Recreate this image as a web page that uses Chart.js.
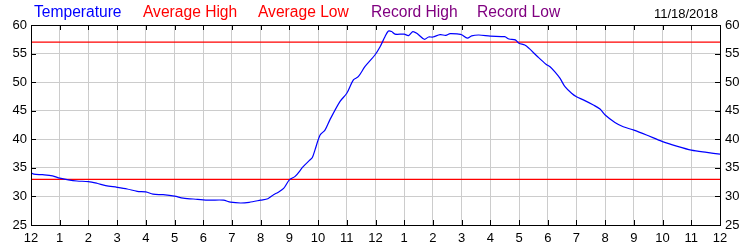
<!DOCTYPE html>
<html>
<head>
<meta charset="utf-8">
<script src="https://cdn.jsdelivr.net/npm/chart.js@4"></script>
<style>
  body { margin: 0; background: #fff; }
  #wrap { position: relative; width: 750px; height: 250px; font-family: Arial, "Liberation Sans", sans-serif; }
  .lg { position: absolute; top: 3px; font-size: 15.6px; white-space: nowrap; }
  #date { position: absolute; top: 6px; right: 32px; font-size: 13px; color: #000; }
</style>
</head>
<body>
<div id="wrap">
  <canvas id="chartTemp" width="750" height="250"></canvas>
  <div class="lg" style="left:34px;color:#0000ff">Temperature</div>
  <div class="lg" style="left:143px;color:#ff0000">Average High</div>
  <div class="lg" style="left:258px;color:#ff0000">Average Low</div>
  <div class="lg" style="left:371px;color:#800080">Record High</div>
  <div class="lg" style="left:477px;color:#800080">Record Low</div>
  <div id="date">11/18/2018</div>
</div>
<script>
// ══════════════════════════════════════
// DATA
// ══════════════════════════════════════

// hours since midnight
const HOURS = [
  0, 0.1, 0.4, 0.75, 1.0, 1.3, 1.6, 2.0, 2.3, 2.6, 3.0, 3.35, 3.7, 4.0, 4.25, 4.6,
  5.0, 5.3, 5.8, 6.2, 6.7, 6.95, 7.3, 7.6, 8.0, 8.25, 8.45, 8.6, 8.8, 9.0, 9.2, 9.48,
  9.7, 9.8, 9.89, 10.07, 10.24, 10.41, 10.76, 11.0, 11.23, 11.4, 11.63, 11.98, 12.16, 12.33,
  12.45, 12.56, 12.68, 13.0, 13.15, 13.3, 13.45, 13.7, 13.85, 14.0, 14.25, 14.45, 14.6, 14.9,
  15.0, 15.2, 15.35, 15.6, 16.0, 16.5, 16.65, 16.87, 17.0, 17.2, 17.35, 17.65, 17.95, 18.08,
  18.25, 18.43, 18.6, 18.83, 19.0, 19.24, 19.59, 19.82, 20.0, 20.34, 20.63, 21.0, 21.44, 22.0,
  22.49, 23.0, 23.54, 24.0
];
const TEMPS = [
  34.15, 33.9, 33.8, 33.6, 33.2, 32.9, 32.7, 32.6, 32.3, 31.9, 31.6, 31.3, 30.9, 30.8, 30.4, 30.3,
  30.05, 29.7, 29.5, 29.35, 29.35, 29.0, 28.85, 28.97, 29.35, 29.6, 30.3, 30.7, 31.4, 32.9, 33.5, 35.2,
  36.3, 36.8, 38.1, 40.75, 41.6, 43.4, 46.6, 48.05, 50.4, 50.95, 52.7, 54.75, 56.2, 57.95,
  58.95, 58.85, 58.4, 58.4, 58.15, 58.85, 58.5, 57.5, 57.9, 57.9, 58.3, 58.2, 58.5, 58.4,
  58.3, 57.7, 58.1, 58.25, 58.05, 57.95, 57.55, 57.4, 56.8, 56.5, 55.9, 54.45, 53.1, 52.7,
  51.8, 50.65, 49.2, 48.05, 47.45, 46.9, 46.0, 45.3, 44.25, 42.95, 42.2, 41.6, 40.75, 39.6,
  38.8, 38.1, 37.7, 37.4
];
const AVG_HIGH = 57;
const AVG_LOW  = 33;

const Y_MIN = 25, Y_MAX = 60, Y_STEP = 5;
const X_MIN = 0,  X_MAX = 24;

// hour -> clock label (12, 1 .. 11, 12, 1 .. 11, 12)
const hourLabel = v => (v % 12 === 0 ? 12 : v % 12);

// black ticks drawn inside the frame + top border
const frameTicks = {
  id: 'frameTicks',
  afterDraw(chart) {
    const { ctx, chartArea: a, scales } = chart;
    ctx.save();
    ctx.strokeStyle = '#000';
    ctx.lineWidth = 1;
    ctx.beginPath();
    for (let h = X_MIN + 1; h < X_MAX; h++) {
      const x = Math.round(scales.x.getPixelForValue(h)) + 0.5;
      ctx.moveTo(x, a.top); ctx.lineTo(x, a.top + 5);
      ctx.moveTo(x, a.bottom); ctx.lineTo(x, a.bottom - 5);
    }
    for (let v = Y_MIN + Y_STEP; v < Y_MAX; v += Y_STEP) {
      const y = Math.round(scales.y.getPixelForValue(v)) + 0.5;
      ctx.moveTo(a.left, y); ctx.lineTo(a.left + 5, y);
      ctx.moveTo(a.right, y); ctx.lineTo(a.right - 5, y);
    }
    ctx.stroke();
    ctx.strokeRect(Math.round(a.left) + 0.5, Math.round(a.top) + 0.5,
                   Math.round(a.right - a.left), Math.round(a.bottom - a.top));
    ctx.restore();
  }
};

const tickFont = { family: 'Arial, "Liberation Sans", sans-serif', size: 13 };

new Chart(document.getElementById('chartTemp'), {
  type: 'line',
  data: {
    datasets: [
      {
        label: 'Temperature',
        data: HOURS.map((h, i) => ({ x: h, y: TEMPS[i] })),
        borderColor: '#0000ff',
        borderWidth: 1.2,
        pointRadius: 0,
        tension: 0.3,
      },
      {
        label: 'Average High',
        data: [{ x: X_MIN, y: AVG_HIGH }, { x: X_MAX, y: AVG_HIGH }],
        borderColor: '#ff0000',
        borderWidth: 1.3,
        pointRadius: 0,
      },
      {
        label: 'Average Low',
        data: [{ x: X_MIN, y: AVG_LOW }, { x: X_MAX, y: AVG_LOW }],
        borderColor: '#ff0000',
        borderWidth: 1.3,
        pointRadius: 0,
      },
    ],
  },
  options: {
    responsive: false,
    animation: false,
    layout: { padding: { top: 25, left: 0, right: 0, bottom: 0 } },
    plugins: { legend: { display: false }, tooltip: { enabled: false } },
    scales: {
      x: {
        type: 'linear', min: X_MIN, max: X_MAX,
        afterFit: s => { s.height = 25; },
        grid: { color: '#cccccc', drawTicks: false },
        border: { color: '#000' },
        ticks: { stepSize: 1, color: '#000', font: tickFont, padding: 6, maxRotation: 0, autoSkip: false, callback: hourLabel },
      },
      y: {
        min: Y_MIN, max: Y_MAX, position: 'left',
        afterFit: s => { s.width = 31; },
        grid: { color: '#cccccc', drawTicks: false },
        border: { color: '#000' },
        ticks: { stepSize: Y_STEP, color: '#000', font: tickFont, padding: 4 },
      },
      y2: {
        min: Y_MIN, max: Y_MAX, position: 'right',
        afterFit: s => { s.width = 30; },
        grid: { display: false, drawTicks: false },
        border: { color: '#000' },
        ticks: { stepSize: Y_STEP, color: '#000', font: tickFont, padding: 5 },
      },
    },
  },
  plugins: [frameTicks],
});
</script>
</body>
</html>
